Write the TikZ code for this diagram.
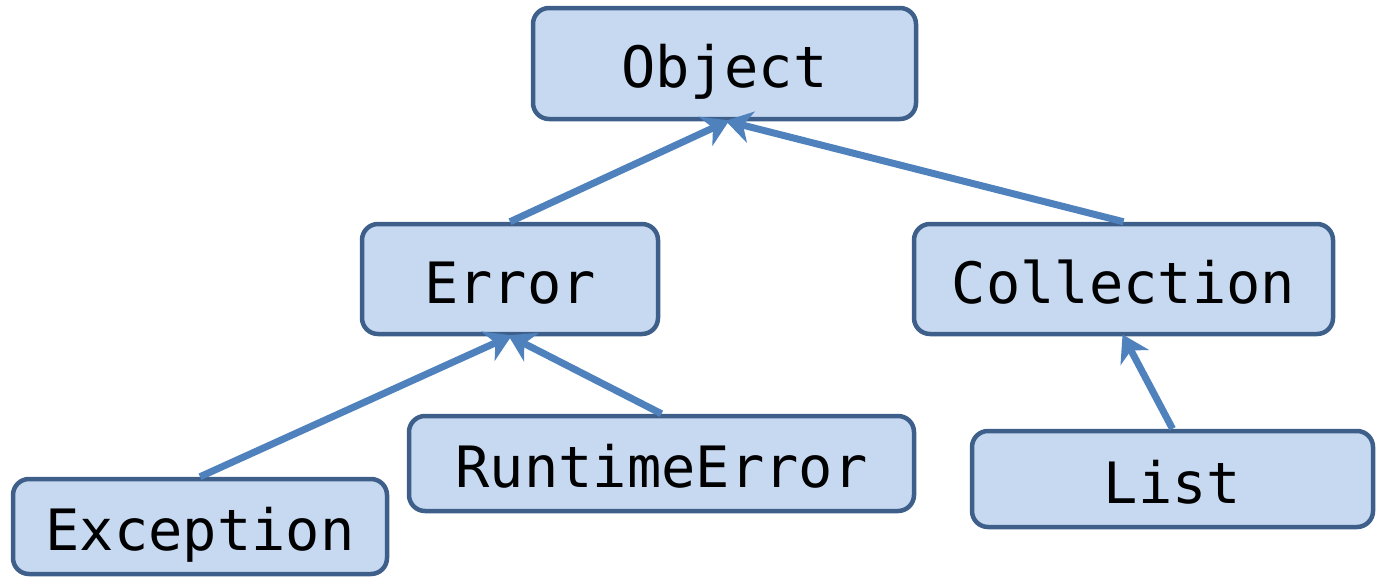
\documentclass[tikz,border=0pt]{standalone}
\usepackage{fontspec}
\setmonofont{DejaVu Sans Mono}
\usetikzlibrary{arrows.meta}
\definecolor{boxfill}{HTML}{C6D9F1}
\definecolor{boxline}{HTML}{3E5F8A}
\definecolor{arrowblue}{HTML}{4F81BD}
\tikzset{
  classbox/.style={draw=boxline, fill=boxfill, line width=4.5pt, rounded corners=16pt,
    inner sep=0pt, text height=48pt, text depth=0pt,
    font=\ttfamily\fontsize{57}{60}\selectfont, text=black},
  inherits/.style={draw=arrowblue, line width=7pt,
    -{Stealth[length=26pt,width=32pt,inset=8pt]}, shorten >=-2pt}
}
\begin{document}
\begin{tikzpicture}[x=1pt,y=-1pt]
  \useasboundingbox (0,0) rectangle (1378,576);
  \node[classbox, minimum width=383pt, minimum height=111pt] (obj) at (724.5,63.5) {Object};
  \node[classbox, minimum width=296pt, minimum height=110pt] (err) at (510,279) {Error};
  \node[classbox, minimum width=419pt, minimum height=110pt] (col) at (1123.5,279) {Collection};
  \node[classbox, minimum width=505pt, minimum height=95pt] (rte) at (661.5,463.5) {RuntimeError};
  \node[classbox, minimum width=374pt, minimum height=95pt] (exc) at (200,526.5) {Exception};
  \node[classbox, minimum width=401pt, minimum height=96pt] (lst) at (1172.5,479) {List};

  \coordinate (objin) at ([xshift=3pt]obj.south);
  \draw[inherits] (err.north) -- (objin);
  \draw[inherits] (col.north) -- (objin);
  \draw[inherits] (exc.north) -- (err.south);
  \draw[inherits] (rte.north) -- (err.south);
  \draw[inherits] (lst.north) -- (col.south);
\end{tikzpicture}
\end{document}
